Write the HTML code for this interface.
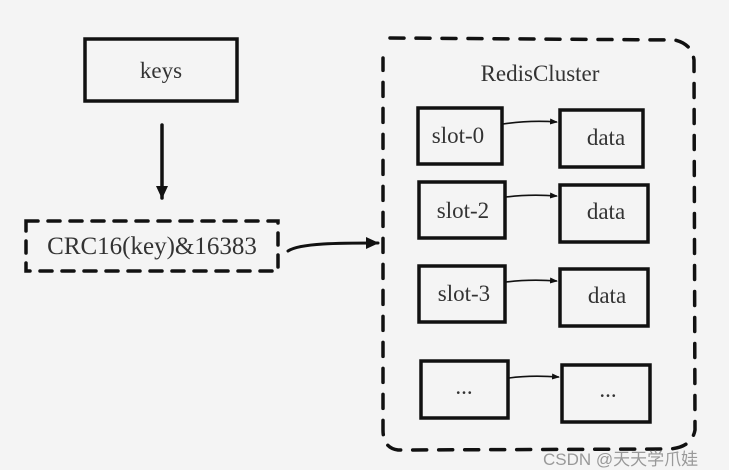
<!DOCTYPE html>
<html><head><meta charset="utf-8"><style>
html,body{margin:0;padding:0;background:#f4f4f4;width:729px;height:470px;overflow:hidden}
svg text{font-family:"Liberation Serif","Noto Serif CJK SC",serif;fill:#333}
</style></head><body>
<svg width="729" height="470" viewBox="0 0 729 470" xmlns="http://www.w3.org/2000/svg">
<defs><marker id="a" markerWidth="8" markerHeight="8" refX="7" refY="4" orient="auto" markerUnits="userSpaceOnUse"><path d="M0,1 L8,4 L0,7z" fill="#111"/></marker>
<marker id="b" markerWidth="14" markerHeight="14" refX="12" refY="7" orient="auto" markerUnits="userSpaceOnUse"><path d="M0,1 L13,7 L0,13z" fill="#111"/></marker></defs>
<g fill="none" stroke="#111" stroke-width="3.5" stroke-linecap="round">
<rect x="85" y="39" width="152" height="62"/>
<line x1="162" y1="125" x2="162" y2="198" marker-end="url(#b)"/>
<rect x="26" y="221" width="252" height="50" stroke-dasharray="12,10"/>
<path d="M288,251 C300,243 340,243 378,243" stroke-width="3" marker-end="url(#b)"/>
<path d="M390,38 L675,40 Q692,44 694,60 L695,430 Q692,447 670,449 L398,450 Q383,448 383,430 L383,58" stroke-dasharray="14,12"/>
<rect x="418" y="108" width="84" height="56"/>
<rect x="560" y="110" width="83" height="57"/>
<rect x="419" y="182" width="86" height="56"/>
<rect x="560" y="185" width="88" height="57"/>
<rect x="419" y="266" width="86" height="56"/>
<rect x="560" y="269" width="88" height="57"/>
<rect x="421" y="361" width="87" height="57"/>
<rect x="562" y="365" width="88" height="57"/>
</g>
<g stroke="#111" stroke-width="1.6" fill="none">
<path d="M503,124 Q530,120 557,122" marker-end="url(#a)"/>
<path d="M506,197 Q530,194 557,196" marker-end="url(#a)"/>
<path d="M506,282 Q530,279 557,281" marker-end="url(#a)"/>
<path d="M509,378 Q530,375 559,377" marker-end="url(#a)"/>
</g>
<g font-size="23" text-anchor="middle">
<text x="161" y="78">keys</text>
<text x="152" y="254" font-size="25">CRC16(key)&amp;16383</text>
<text x="540" y="81">RedisCluster</text>
<text x="458" y="143">slot-0</text><text x="606" y="145">data</text>
<text x="463" y="218">slot-2</text><text x="606" y="219">data</text>
<text x="464" y="301">slot-3</text><text x="607" y="303">data</text>
<text x="464" y="394">...</text><text x="608" y="397">...</text>
</g>
<text x="543" y="465" font-size="17" style="font-family:'Liberation Sans','Noto Sans CJK SC',sans-serif;fill:#999">CSDN @天天学爪娃</text>
</svg>
</body></html>
